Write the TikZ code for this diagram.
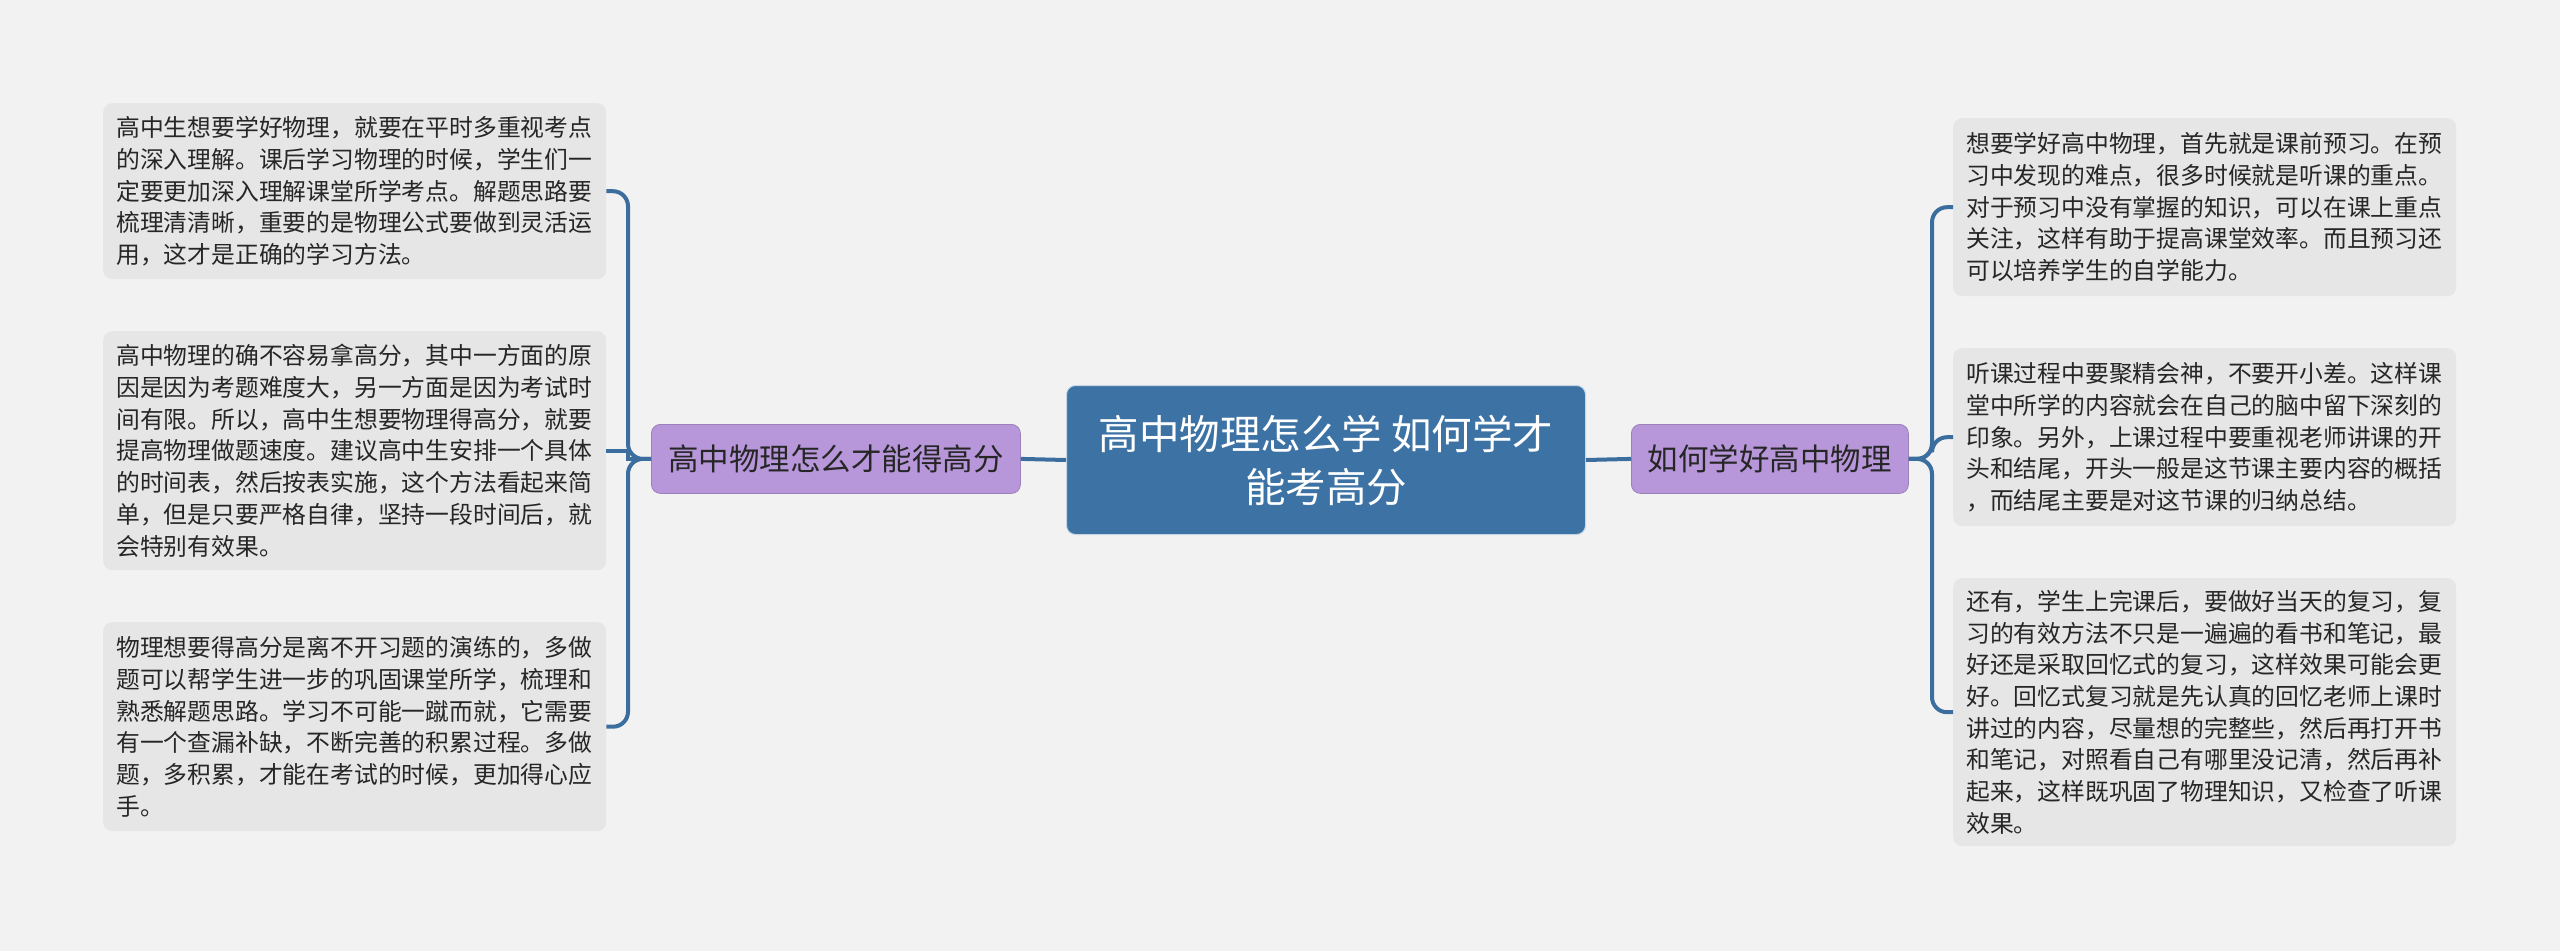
\documentclass[tikz,border=0pt]{standalone}
\usepackage{fontspec}
\newfontfamily\cjk{Noto Sans CJK SC}
\definecolor{bg}{HTML}{F2F2F2}
\definecolor{leaffill}{HTML}{E6E6E6}
\definecolor{centerfill}{HTML}{3D72A5}
\definecolor{branchfill}{HTML}{B797DA}
\definecolor{linecol}{HTML}{3B6E9F}
\definecolor{txt}{HTML}{262626}
\begin{document}
\begin{tikzpicture}[x=1pt,y=-1pt,
  leaf/.style={anchor=north west, fill=leaffill, rounded corners=9pt,
    minimum width=503pt, text width=477pt, inner xsep=13pt, inner ysep=0pt,
    align=left, text=txt, font=\cjk\fontsize{23.8pt}{31.7pt}\selectfont},
  branch/.style={anchor=north west, fill=branchfill, draw=branchfill!85!black, line width=0.8pt, rounded corners=9pt,
    minimum height=69pt, inner sep=0pt, text=txt, font=\cjk\fontsize{30.5pt}{34pt}\selectfont},
  centerbox/.style={anchor=north west, fill=centerfill, draw=white!70!centerfill, line width=1pt, rounded corners=9pt,
    minimum width=519pt, minimum height=149pt, inner sep=0pt, align=center, text=white,
    font=\cjk\fontsize{40.5pt}{53pt}\selectfont},
  conn/.style={draw=linecol, line width=4pt, rounded corners=15pt}
]
\fill[bg] (0,0) rectangle (2560,951);
\useasboundingbox (0,0) rectangle (2560,951);

\node[centerbox] (c) at (1066,385) {高中物理怎么学 如何学才\\能考高分};
\node[branch, minimum width=369pt] (lb) at (651,424) {高中物理怎么才能得高分};
\node[branch, minimum width=277pt] (rb) at (1631,424) {如何学好高中物理};

\node[leaf, minimum height=176pt] (l1) at (103,103) {高中生想要学好物理，就要在平时多重视考点\\的深入理解。课后学习物理的时候，学生们一\\定要更加深入理解课堂所学考点。解题思路要\\梳理清清晰，重要的是物理公式要做到灵活运\\用，这才是正确的学习方法。};
\node[leaf, minimum height=239pt] (l2) at (103,331) {高中物理的确不容易拿高分，其中一方面的原\\因是因为考题难度大，另一方面是因为考试时\\间有限。所以，高中生想要物理得高分，就要\\提高物理做题速度。建议高中生安排一个具体\\的时间表，然后按表实施，这个方法看起来简\\单，但是只要严格自律，坚持一段时间后，就\\会特别有效果。};
\node[leaf, minimum height=209pt] (l3) at (103,622) {物理想要得高分是离不开习题的演练的，多做\\题可以帮学生进一步的巩固课堂所学，梳理和\\熟悉解题思路。学习不可能一蹴而就，它需要\\有一个查漏补缺，不断完善的积累过程。多做\\题，多积累，才能在考试的时候，更加得心应\\手。};

\node[leaf, minimum height=178pt] (r1) at (1953,118) {想要学好高中物理，首先就是课前预习。在预\\习中发现的难点，很多时候就是听课的重点。\\对于预习中没有掌握的知识，可以在课上重点\\关注，这样有助于提高课堂效率。而且预习还\\可以培养学生的自学能力。};
\node[leaf, minimum height=178pt] (r2) at (1953,348) {听课过程中要聚精会神，不要开小差。这样课\\堂中所学的内容就会在自己的脑中留下深刻的\\印象。另外，上课过程中要重视老师讲课的开\\头和结尾，开头一般是这节课主要内容的概括\\，而结尾主要是对这节课的归纳总结。};
\node[leaf, minimum height=268pt] (r3) at (1953,578) {还有，学生上完课后，要做好当天的复习，复\\习的有效方法不只是一遍遍的看书和笔记，最\\好还是采取回忆式的复习，这样效果可能会更\\好。回忆式复习就是先认真的回忆老师上课时\\讲过的内容，尽量想的完整些，然后再打开书\\和笔记，对照看自己有哪里没记清，然后再补\\起来，这样既巩固了物理知识，又检查了听课\\效果。};

\coordinate (busL) at (628,460);
\coordinate (busR) at (1932,460);

\draw[conn] (c.west) -- (lb.east);
\draw[conn] (c.east) -- (rb.west);
\draw[conn] (lb.west) -- (lb.west -| busL) |- (l1.east);
\draw[conn, sharp corners] (lb.west) -- (lb.west -| busL) |- (l2.east);
\draw[conn] (lb.west) -- (lb.west -| busL) |- (l3.east);
\draw[conn] (rb.east) -- (rb.east -| busR) |- (r1.west);
\draw[conn] (rb.east) -- (rb.east -| busR) |- (r2.west);
\draw[conn] (rb.east) -- (rb.east -| busR) |- (r3.west);
\end{tikzpicture}
\end{document}
